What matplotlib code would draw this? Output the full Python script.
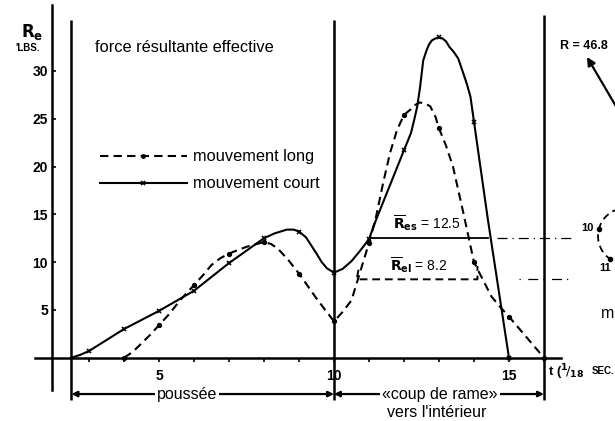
import numpy as np
import matplotlib
matplotlib.use("Agg")
import matplotlib.pyplot as plt
from matplotlib.patches import Arc

# values: t in 1/18 sec, Re in lbs
t_court = [2.5, 2.75, 3, 3.5, 4, 5, 6, 7, 7.5, 8, 8.3, 8.65, 8.85, 9, 9.2,
           9.5, 9.65, 9.8, 10, 10.25, 10.5, 10.75, 11, 11.2, 12, 12.2, 12.3,
           12.38, 12.46, 12.55, 12.65, 12.72, 12.8, 12.9, 13, 13.1, 13.2, 13.3,
           13.42, 13.55, 13.7, 13.8, 13.9, 14, 14.4, 15]
re_court = [0, 0.3, 0.7, 1.85, 3, 4.9, 7, 9.9, 11.2, 12.5, 13.0, 13.4, 13.4,
            13.2, 12.6, 10.9, 10.0, 9.35, 8.9, 9.3, 10.1, 11.2, 12.4, 14.4,
            21.7, 23.5, 25.0, 26.3, 28.3, 31.1, 32.2, 32.8, 33.2, 33.4, 33.5,
            33.4, 33.1, 32.5, 32.0, 31.3, 29.7, 28.6, 27.3, 24.7, 14.4, 0]

t_long = [4, 4.25, 4.5, 4.75, 5, 5.3, 5.6, 6, 6.25, 6.5, 6.75, 7, 7.5, 8, 8.2,
          8.4, 8.7, 9, 9.5, 9.75, 10, 10.25, 10.5, 10.75, 11, 11.2, 11.4, 11.6,
          11.8, 12, 12.2, 12.3, 12.45, 12.6, 12.75, 12.9, 13, 13.2, 13.4, 13.7,
          14, 14.5, 14.75, 15, 16]
re_long = [0, 0.6, 1.5, 2.4, 3.4, 4.6, 6.0, 7.6, 8.6, 9.7, 10.4, 10.9, 11.6,
           12.1, 11.9, 11.4, 10.2, 8.8, 6.2, 5.0, 3.8, 4.8, 6.0, 9.0, 12.0,
           14.7, 18.2, 21.4, 23.8, 25.4, 26.0, 26.4, 26.7, 26.6, 26.3, 25.2,
           24.0, 22.2, 20.0, 15.1, 10.0, 6.4, 5.3, 4.3, 0]

# mean values and the span over which they are drawn
res_mean, res_span = 12.5, (11, 14.4)
rel_mean, rel_span = 8.2, (10.65, 14.1)

y_ticks = [5, 10, 15, 20, 25, 30]
x_ticks = list(range(3, 17))
x_labels = {5: "5", 10: "10", 15: "15"}

W, H = 615, 421
BOLD = ["Liberation Sans", "DejaVu Sans"]
SANS = ["Liberation Sans", "DejaVu Sans"]


def fx(px):
    return px / W


def fy(py):
    return 1 - py / H


fig = plt.figure(figsize=(W / 100, H / 100), dpi=100)
ax = fig.add_axes([0, 0, 1, 1])
ax.set_xlim(0.457, 18.03)
ax.set_ylim(-6.62, 37.42)

# axes
for s in ["top", "right"]:
    ax.spines[s].set_visible(False)
ax.spines["left"].set_position(("data", 1.95))
ax.spines["left"].set_bounds(-3.4, 36.9)
ax.spines["bottom"].set_position(("data", 0))
ax.spines["bottom"].set_bounds(1.45, 16.5)
for s in ["left", "bottom"]:
    ax.spines[s].set_linewidth(1.8)

ax.set_yticks(y_ticks)
ax.set_xticks(x_ticks)
ax.set_xticklabels([x_labels.get(t, "") for t in x_ticks])
ax.tick_params(axis="y", direction="in", length=3, width=1.2, pad=3, labelsize=10)
ax.tick_params(axis="x", direction="out", length=3, width=1.2, pad=5, labelsize=10)
for lbl in ax.get_xticklabels() + ax.get_yticklabels():
    lbl.set_fontfamily(BOLD)
    lbl.set_fontweight("bold")

# vertical phase lines
for t0, top in [(2.5, 35.3), (10, 35.3), (16, 35.8)]:
    ax.plot([t0, t0], [-4.4, top], color="k", lw=1.8, solid_capstyle="butt")

# curves
court_marks = [i for i, t in enumerate(t_court) if float(t).is_integer()]
long_marks = [i for i, t in enumerate(t_long) if float(t).is_integer()]
ax.plot(t_court, re_court, color="k", lw=1.5, marker="x", ms=3.5, mew=1.2,
        markevery=court_marks, solid_joinstyle="round")
ax.plot(t_long, re_long, color="k", lw=1.5, dashes=(4, 2.5), marker="o",
        ms=2.8, markevery=long_marks, dash_joinstyle="round")

# mean lines
ax.plot(res_span, [res_mean, res_mean], color="k", lw=1.3)
ax.plot([res_span[1] + 0.25, 16.9], [res_mean, res_mean], color="k", lw=0.9,
        dashes=(8, 4, 1, 4))
ax.plot([rel_span[0] + 0.05, rel_span[0], rel_span[1], rel_span[1]],
        [rel_mean + 1.0, rel_mean, rel_mean, rel_mean + 1.4],
        color="k", lw=1.4, dashes=(4, 2.5))
ax.plot([15.3, 16.9], [rel_mean, rel_mean], color="k", lw=0.9,
        dashes=(1, 6, 8, 4))
ax.text(11.7, res_mean + 0.5, r"$\overline{\mathbf{R}}_{\mathbf{es}}$" + f" = {res_mean}",
        fontsize=10, family=BOLD, va="bottom")
ax.text(11.6, rel_mean + 0.5, r"$\overline{\mathbf{R}}_{\mathbf{el}}$" + f" = {rel_mean}",
        fontsize=10, family=BOLD, va="bottom")

# titles and legend
ax.text(fx(95), fy(48), "force résultante effective", transform=ax.transAxes,
        fontsize=11.8, family=SANS, va="center")
ax.plot([fx(100), fx(187)], [fy(156)] * 2, transform=ax.transAxes, color="k",
        lw=1.5, dashes=(4, 2.5))
ax.plot([fx(143)], [fy(156)], transform=ax.transAxes, color="k", marker="o", ms=2.5)
ax.text(fx(193), fy(156), "mouvement long", transform=ax.transAxes,
        fontsize=11.8, family=SANS, va="center")
ax.plot([fx(100), fx(187)], [fy(183)] * 2, transform=ax.transAxes, color="k", lw=1.5)
ax.plot([fx(143)], [fy(183)], transform=ax.transAxes, color="k", marker="x",
        ms=3.5, mew=1.2)
ax.text(fx(193), fy(183), "mouvement court", transform=ax.transAxes,
        fontsize=11.8, family=SANS, va="center")

ax.text(fx(32), fy(32), r"$\mathbf{R_e}$", transform=ax.transAxes,
        fontsize=12, ha="center", va="center")
ax.text(fx(28), fy(48), "'LBS.", transform=ax.transAxes, fontsize=7,
        family=BOLD, weight="bold", ha="center", va="center")
ax.text(fx(548), fy(372), r"t ($^{\mathbf{1}}\!/_{\mathbf{18}}$", transform=ax.transAxes,
        fontsize=9.5, family=BOLD, weight="bold", va="center")
ax.text(fx(614), fy(371), "SEC.", transform=ax.transAxes, fontsize=7,
        family=BOLD, weight="bold", va="center", ha="right")

# phase brackets
for a, b, y, label, xc in [(2.5, 10, -3.8, "poussée", 5.8),
                           (10, 16, -3.8, "«coup de rame»", 13.03)]:
    ax.annotate("", xy=(a, y), xytext=(b, y),
                arrowprops=dict(arrowstyle="<|-|>", color="k", lw=1.6,
                                mutation_scale=8, shrinkA=0, shrinkB=0))
    ax.text(xc, y, label, fontsize=11.5, family=SANS, ha="center", va="center",
            bbox=dict(facecolor="white", edgecolor="none", pad=1.5))
ax.text(12.94, -5.68, "vers l'intérieur", fontsize=11.5, family=SANS,
        ha="center", va="center")

# fragment of the neighbouring diagram
ax.text(fx(584), fy(46), "R = 46.8", transform=ax.transAxes, fontsize=9,
        family=BOLD, weight="bold", ha="center", va="center")
ax.annotate("", xy=(fx(587), fy(57)), xytext=(fx(617), fy(108)),
            xycoords="axes fraction", textcoords="axes fraction",
            arrowprops=dict(arrowstyle="-|>", color="k", lw=1.6,
                            mutation_scale=12, shrinkA=0, shrinkB=0))
ax.add_patch(Arc((fx(626), fy(236)), 56 / W, 56 / H, theta1=100, theta2=255,
                 transform=ax.transAxes, color="k", lw=1.3, ls=(0, (4, 2.5))))
for ang in [165, 235]:
    a = np.radians(ang)
    ax.plot([fx(626 + 28 * np.cos(a))], [fy(236 - 28 * np.sin(a))],
            transform=ax.transAxes, color="k", marker="o", ms=3)
ax.text(fx(587), fy(228), "10", transform=ax.transAxes, fontsize=8,
        family=BOLD, weight="bold", ha="center", va="center")
ax.text(fx(605), fy(268), "11", transform=ax.transAxes, fontsize=8,
        family=BOLD, weight="bold", ha="center", va="center")
ax.text(fx(601), fy(314), "m", transform=ax.transAxes, fontsize=11.5,
        family=SANS, va="center")

fig.savefig("out.png", dpi=100, facecolor="white")
